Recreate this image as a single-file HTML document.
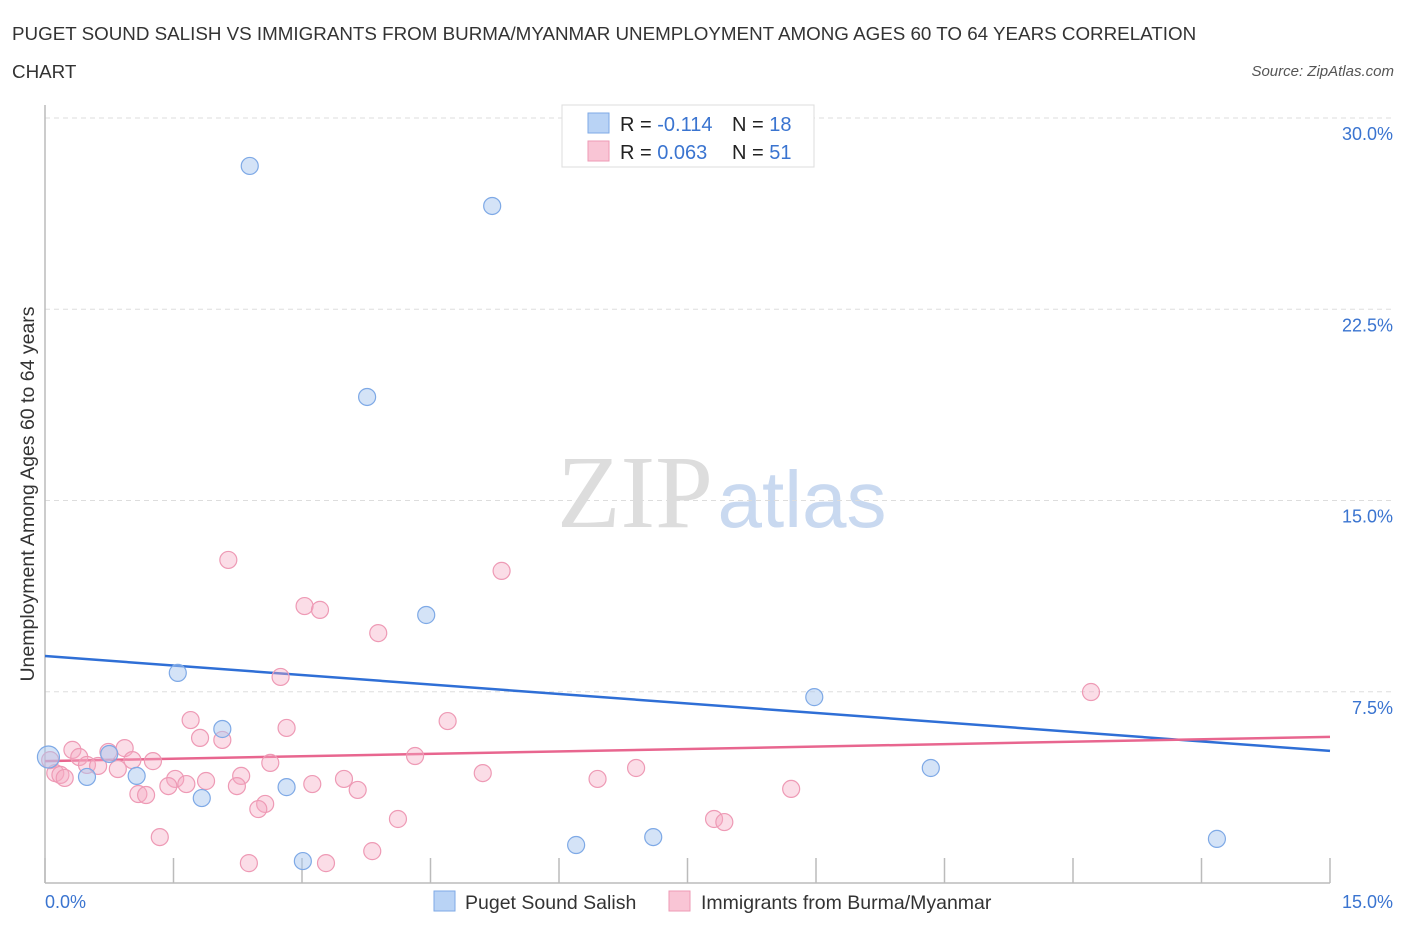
<!DOCTYPE html>
<html><head><meta charset="utf-8"><style>
body{margin:0;background:#fff;font-family:"Liberation Sans",sans-serif;}
</style></head><body>
<svg id="chart" width="1406" height="930" xmlns="http://www.w3.org/2000/svg" style="font-family:'Liberation Sans',sans-serif">
<text x="12" y="40" font-size="18.8" fill="#333">PUGET SOUND SALISH VS IMMIGRANTS FROM BURMA/MYANMAR UNEMPLOYMENT AMONG AGES 60 TO 64 YEARS CORRELATION</text>
<text x="12" y="78" font-size="18.8" fill="#333">CHART</text>
<text x="1394" y="76" font-size="15" fill="#555" font-style="italic" text-anchor="end">Source: ZipAtlas.com</text>
<g>
<text x="635" y="527" font-size="104" fill="#ddd" font-family="Liberation Serif,serif" text-anchor="middle">ZIP</text>
<text x="802" y="527" font-size="80" fill="#c9d9f0" text-anchor="middle">atlas</text>
</g>
<g id="grid"></g><g id="axes"></g><g id="lines"></g><g id="points"></g>
<text transform="translate(34,494) rotate(-90)" font-size="19.5" fill="#333" text-anchor="middle">Unemployment Among Ages 60 to 64 years</text>
<g>
<rect x="562" y="105" width="252" height="62" fill="#fff" stroke="#ddd"/>
<rect x="588" y="113" width="21" height="20" fill="#b9d3f5" stroke="#7ea9e6"/>
<rect x="588" y="141" width="21" height="20" fill="#f9c5d5" stroke="#ee9ab5"/>
<text x="620" y="131" font-size="20" fill="#222">R = <tspan fill="#3a74d0">-0.114</tspan></text>
<text x="732" y="131" font-size="20" fill="#222">N = <tspan fill="#3a74d0">18</tspan></text>
<text x="620" y="159" font-size="20" fill="#222">R = <tspan fill="#3a74d0">0.063</tspan></text>
<text x="732" y="159" font-size="20" fill="#222">N = <tspan fill="#3a74d0">51</tspan></text>
</g>
<g>
<rect x="434" y="891" width="21" height="20" fill="#b9d3f5" stroke="#7ea9e6"/>
<text x="465" y="909" font-size="19.5" fill="#333">Puget Sound Salish</text>
<rect x="669" y="891" width="21" height="20" fill="#f9c5d5" stroke="#ee9ab5"/>
<text x="701" y="909" font-size="19.5" fill="#333">Immigrants from Burma/Myanmar</text>
</g>
</svg>
<script>
const yTicks=[7.5,15,22.5,30];
const yTickLabels=["7.5%","15.0%","22.5%","30.0%"];
const xTicks=[0,1.5,3,4.5,6,7.5,9,10.5,12,13.5,15];
const blueX=[2.39,5.22,3.76,4.45,1.55,8.98,2.07,10.34,0.75,1.07,0.04,0.49,1.83,2.82,3.01,6.20,7.10,13.68];
const blueY=[28.12,26.55,19.06,10.51,8.24,7.29,6.04,4.51,5.06,4.20,4.94,4.16,3.33,3.76,0.86,1.49,1.80,1.73];
const pinkX=[2.14,5.33,3.03,3.21,3.89,12.21,2.75,1.70,4.70,2.82,1.81,2.07,0.93,0.32,4.32,0.40,0.74,1.02,1.26,2.63,0.49,0.85,0.62,5.11,2.29,1.52,3.49,1.88,6.45,6.90,1.65,3.12,1.44,2.24,3.65,8.71,1.09,1.18,2.57,2.49,4.12,7.81,7.93,1.34,3.82,2.38,3.28,0.12,0.06,0.18,0.23];
const pinkY=[12.67,12.24,10.86,10.71,9.80,7.49,8.08,6.39,6.35,6.08,5.69,5.61,5.29,5.22,4.98,4.94,5.14,4.82,4.78,4.71,4.63,4.47,4.59,4.31,4.20,4.08,4.08,4.00,4.08,4.51,3.88,3.88,3.80,3.80,3.65,3.69,3.49,3.45,3.10,2.90,2.51,2.51,2.39,1.80,1.25,0.78,0.78,4.31,4.82,4.24,4.12];
const blueTrend=[8.90,5.18];
const pinkTrend=[4.78,5.73];
const NS="http://www.w3.org/2000/svg";
const X0=45,X1=1330,Y0=883,Y30=118;
function sx(v){return X0+(v/15)*(X1-X0);}
function sy(v){return Y0-(v/30)*(Y0-Y30);}
function mk(tag,attrs,parent){const e=document.createElementNS(NS,tag);for(const k in attrs)e.setAttribute(k,attrs[k]);document.getElementById(parent).appendChild(e);return e;}
yTicks.forEach((t,i)=>{
 const g=mk('line',{x1:X0,x2:1392,y1:sy(t),y2:sy(t),stroke:'#ddd','stroke-dasharray':'5,4'},'grid');
 
 
 const l=mk('text',{x:1393,y:sy(t)+22,'font-size':18,fill:'#3a74d0','text-anchor':'end'},'grid');
 l.textContent=yTickLabels[i];
 
 
});
const ya=mk('line',{x1:X0,x2:X0,y1:105,y2:Y0,stroke:'#bbb','stroke-width':1.5},'axes');


const xa=mk('line',{x1:X0,x2:X1,y1:Y0,y2:Y0,stroke:'#bbb','stroke-width':1.5},'axes');


xTicks.forEach(t=>{
 const tk=mk('line',{x1:sx(t),x2:sx(t),y1:858,y2:Y0,stroke:'#bbb','stroke-width':1.5},'axes');
 
 
});
const xl0=mk('text',{x:45,y:908,'font-size':18,fill:'#3a74d0'},'axes');xl0.textContent='0.0%';


const xl1=mk('text',{x:1393,y:908,'font-size':18,fill:'#3a74d0','text-anchor':'end'},'axes');xl1.textContent='15.0%';


pinkX.forEach((x,i)=>{
 const c=mk('circle',{cx:sx(x),cy:sy(pinkY[i]),r:8.5,fill:'rgba(246,170,195,0.4)',stroke:'#ee9ab5','stroke-width':1.2},'points');
 
 
});
blueX.forEach((x,i)=>{
 const c=mk('circle',{cx:sx(x),cy:sy(blueY[i]),r:i==10?11:8.5,fill:'rgba(170,200,240,0.5)',stroke:'#7ea9e6','stroke-width':1.2},'points');
 
 
});
const bl=mk('line',{x1:sx(0),y1:sy(blueTrend[0]),x2:sx(15),y2:sy(blueTrend[1]),stroke:'#2f6fd6','stroke-width':2.5},'lines');


const pl=mk('line',{x1:sx(0),y1:sy(pinkTrend[0]),x2:sx(15),y2:sy(pinkTrend[1]),stroke:'#e8668f','stroke-width':2.5},'lines');


</script>
</body></html>
